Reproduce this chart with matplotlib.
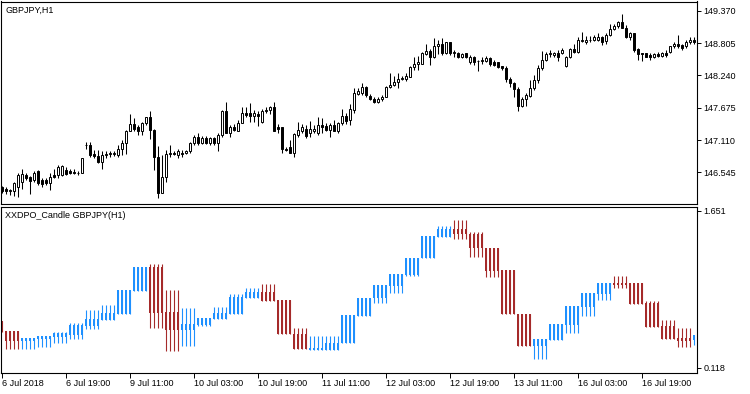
import numpy as np
import matplotlib
matplotlib.use("Agg")
import matplotlib.pyplot as plt

# GBPJPY H1 candles, 6 Jul 2018 03:00 .. 17 Jul 2018 08:00
price_open = [
    146.28, 146.26, 146.21, 146.21, 146.29, 146.38, 146.50, 146.46, 146.41, 146.56,
    146.41, 146.41, 146.35, 146.50, 146.50, 146.50, 146.58, 146.56, 146.55, 146.54,
    146.54, 147.02, 147.02, 146.87, 146.83, 146.73, 146.85, 146.86, 146.86, 146.85,
    146.95, 147.06, 147.27, 147.39, 147.33, 147.27, 147.40, 147.51, 147.29, 146.81,
    146.19, 146.46, 146.87, 146.88, 146.85, 146.89, 146.88, 146.91, 147.05, 147.17,
    147.06, 147.14, 147.05, 147.14, 147.06, 147.20, 147.61, 147.24, 147.34, 147.27,
    147.41, 147.59, 147.58, 147.53, 147.57, 147.43, 147.61, 147.64, 147.69, 147.33,
    147.33, 146.96, 146.98, 146.89, 147.20, 147.27, 147.31, 147.23, 147.27, 147.23,
    147.37, 147.36, 147.29, 147.37, 147.27, 147.40, 147.53, 147.46, 147.64, 147.92,
    147.93, 148.03, 147.88, 147.82, 147.78, 147.82, 147.87, 148.03, 148.07, 148.13,
    148.17, 148.17, 148.22, 148.38, 148.45, 148.45, 148.62, 148.67, 148.56, 148.75,
    148.80, 148.63, 148.82, 148.64, 148.63, 148.57, 148.63, 148.48, 148.56, 148.50,
    148.50, 148.50, 148.54, 148.48, 148.47, 148.40, 148.37, 148.17, 148.11, 148.00,
    147.71, 147.82, 147.88, 148.02, 148.16, 148.37, 148.52, 148.62, 148.60, 148.64,
    148.64, 148.40, 148.56, 148.70, 148.66, 148.85, 148.83, 148.86, 148.87, 148.87,
    148.91, 148.85, 148.95, 149.05, 149.11, 149.18, 149.08, 148.91, 148.98, 148.70,
    148.63, 148.63, 148.60, 148.56, 148.62, 148.58, 148.64, 148.66, 148.75, 148.79,
    148.77, 148.76, 148.83, 148.87,
]
price_high = [
    146.30, 146.29, 146.25, 146.38, 146.54, 146.61, 146.53, 146.48, 146.56, 146.58,
    146.44, 146.44, 146.53, 146.61, 146.67, 146.67, 146.64, 146.61, 146.60, 146.57,
    146.79, 147.08, 147.08, 146.94, 146.94, 146.91, 146.91, 146.92, 146.92, 147.02,
    147.11, 147.29, 147.57, 147.49, 147.37, 147.43, 147.52, 147.61, 147.31, 147.01,
    146.85, 146.94, 147.02, 146.91, 146.96, 146.94, 146.94, 147.08, 147.20, 147.23,
    147.18, 147.18, 147.17, 147.17, 147.23, 147.64, 147.78, 147.37, 147.39, 147.46,
    147.69, 147.68, 147.76, 147.64, 147.61, 147.65, 147.68, 147.71, 147.78, 147.39,
    147.34, 146.99, 147.11, 147.23, 147.43, 147.39, 147.37, 147.45, 147.37, 147.51,
    147.49, 147.41, 147.41, 147.46, 147.43, 147.66, 147.58, 147.74, 148.02, 148.02,
    148.10, 148.05, 147.91, 147.86, 147.87, 147.90, 148.06, 148.28, 148.23, 148.28,
    148.23, 148.28, 148.41, 148.56, 148.58, 148.66, 148.80, 148.70, 148.89, 148.86,
    148.89, 148.83, 148.83, 148.69, 148.66, 148.64, 148.64, 148.60, 148.58, 148.52,
    148.57, 148.58, 148.57, 148.51, 148.48, 148.41, 148.40, 148.22, 148.13, 148.03,
    147.86, 147.93, 148.16, 148.25, 148.42, 148.67, 148.66, 148.68, 148.66, 148.69,
    148.72, 148.58, 148.72, 148.79, 148.91, 149.00, 148.93, 148.93, 148.95, 148.98,
    148.93, 148.99, 149.14, 149.15, 149.20, 149.32, 149.13, 149.01, 148.99, 148.73,
    148.63, 148.64, 148.63, 148.64, 148.66, 148.66, 148.68, 148.76, 148.83, 148.95,
    148.80, 148.87, 148.91, 148.92,
]
price_low = [
    146.19, 146.16, 146.15, 146.13, 146.12, 146.26, 146.41, 146.16, 146.38, 146.32,
    146.29, 146.32, 146.23, 146.44, 146.44, 146.48, 146.50, 146.51, 146.52, 146.50,
    146.53, 146.96, 146.82, 146.79, 146.71, 146.61, 146.79, 146.82, 146.83, 146.82,
    146.85, 146.87, 147.26, 147.26, 147.20, 147.20, 147.37, 147.12, 146.59, 146.09,
    146.18, 146.38, 146.82, 146.85, 146.79, 146.82, 146.87, 146.89, 147.02, 147.02,
    147.04, 147.04, 147.03, 147.02, 146.91, 147.17, 147.23, 147.17, 147.26, 147.26,
    147.40, 147.52, 147.43, 147.43, 147.36, 147.41, 147.58, 147.57, 147.26, 147.23,
    146.89, 146.91, 146.88, 146.81, 147.17, 147.23, 147.14, 147.17, 147.23, 147.20,
    147.23, 147.26, 147.16, 147.26, 147.24, 147.37, 147.39, 147.37, 147.59, 147.90,
    147.90, 147.86, 147.81, 147.76, 147.76, 147.80, 147.86, 148.02, 148.06, 148.02,
    148.16, 148.15, 148.21, 148.34, 148.34, 148.44, 148.60, 148.42, 148.54, 148.62,
    148.60, 148.62, 148.60, 148.56, 148.54, 148.54, 148.54, 148.45, 148.42, 148.31,
    148.45, 148.48, 148.41, 148.40, 148.37, 148.34, 148.13, 148.03, 147.87, 147.62,
    147.68, 147.71, 147.87, 147.99, 148.10, 148.34, 148.50, 148.57, 148.56, 148.50,
    148.62, 148.38, 148.54, 148.64, 148.64, 148.83, 148.79, 148.83, 148.85, 148.85,
    148.77, 148.79, 148.93, 149.03, 149.07, 149.07, 148.89, 148.87, 148.66, 148.52,
    148.50, 148.56, 148.52, 148.54, 148.56, 148.56, 148.56, 148.64, 148.72, 148.72,
    148.69, 148.73, 148.80, 148.80,
]
price_close = [
    146.22, 146.21, 146.23, 146.35, 146.50, 146.52, 146.45, 146.40, 146.54, 146.35,
    146.34, 146.35, 146.47, 146.47, 146.64, 146.66, 146.52, 146.53, 146.53, 146.53,
    146.79, 147.03, 146.85, 146.83, 146.73, 146.85, 146.87, 146.88, 146.89, 146.96,
    147.06, 147.27, 147.39, 147.31, 147.27, 147.40, 147.51, 147.29, 146.81, 146.19,
    146.46, 146.87, 146.89, 146.87, 146.91, 146.87, 146.91, 147.05, 147.17, 147.06,
    147.15, 147.06, 147.15, 147.05, 147.20, 147.61, 147.24, 147.34, 147.29, 147.41,
    147.59, 147.55, 147.53, 147.59, 147.53, 147.62, 147.64, 147.69, 147.27, 147.31,
    146.96, 146.94, 146.89, 147.22, 147.29, 147.33, 147.18, 147.31, 147.31, 147.37,
    147.34, 147.29, 147.37, 147.27, 147.41, 147.53, 147.45, 147.66, 147.93, 147.96,
    148.03, 147.90, 147.82, 147.78, 147.82, 147.87, 148.03, 148.07, 148.13, 148.18,
    148.19, 148.23, 148.38, 148.45, 148.48, 148.63, 148.67, 148.56, 148.75, 148.79,
    148.63, 148.82, 148.64, 148.66, 148.56, 148.62, 148.56, 148.57, 148.48, 148.50,
    148.51, 148.54, 148.44, 148.42, 148.38, 148.37, 148.17, 148.11, 148.00, 147.71,
    147.82, 147.90, 148.02, 148.16, 148.37, 148.52, 148.62, 148.64, 148.64, 148.57,
    148.69, 148.56, 148.70, 148.66, 148.87, 148.87, 148.87, 148.87, 148.91, 148.91,
    148.83, 148.95, 149.05, 149.11, 149.17, 149.08, 148.91, 148.98, 148.68, 148.62,
    148.62, 148.57, 148.56, 148.62, 148.58, 148.64, 148.60, 148.75, 148.79, 148.75,
    148.73, 148.83, 148.86, 148.83,
]

# XXDPO_Candle values, one per H4 block (first and last blocks are partial)
dpo_open = [
    0.575, 0.477, 0.379, 0.402, 0.422, 0.438, 0.529, 0.585, 0.643, 0.872,
    1.106, 0.663, 0.487, 0.536, 0.591, 0.643, 0.803, 0.855, 0.780, 0.444,
    0.294, 0.294, 0.356, 0.627, 0.797, 0.921, 1.025, 1.188, 1.393, 1.475,
    1.426, 1.286, 1.074, 0.643, 0.334, 0.389, 0.536, 0.715, 0.839, 0.950,
    0.943, 0.754, 0.526, 0.405, 0.389,
]
dpo_high = [
    0.575, 0.477, 0.405, 0.428, 0.470, 0.559, 0.682, 0.731, 0.878, 1.106,
    1.132, 0.878, 0.705, 0.607, 0.712, 0.836, 0.894, 0.937, 0.780, 0.503,
    0.428, 0.428, 0.634, 0.797, 0.927, 1.035, 1.194, 1.406, 1.504, 1.563,
    1.442, 1.286, 1.074, 0.643, 0.399, 0.546, 0.722, 0.846, 0.943, 1.015,
    0.943, 0.771, 0.585, 0.503, 0.438,
]
dpo_low = [
    0.470, 0.301, 0.301, 0.324, 0.356, 0.399, 0.497, 0.585, 0.643, 0.872,
    0.510, 0.285, 0.334, 0.529, 0.591, 0.643, 0.803, 0.774, 0.444, 0.298,
    0.294, 0.294, 0.356, 0.627, 0.754, 0.852, 1.018, 1.188, 1.393, 1.374,
    1.204, 1.009, 0.640, 0.334, 0.200, 0.389, 0.454, 0.627, 0.780, 0.901,
    0.741, 0.519, 0.399, 0.324, 0.340,
]
dpo_close = [
    0.470, 0.379, 0.405, 0.428, 0.454, 0.536, 0.594, 0.656, 0.878, 1.106,
    0.656, 0.487, 0.546, 0.607, 0.656, 0.813, 0.855, 0.774, 0.444, 0.298,
    0.307, 0.363, 0.634, 0.797, 0.927, 1.035, 1.194, 1.406, 1.475, 1.423,
    1.286, 1.067, 0.640, 0.334, 0.399, 0.546, 0.722, 0.846, 0.943, 0.927,
    0.741, 0.519, 0.399, 0.382, 0.438,
]
dpo_bars = [1] + [4] * 43 + [1]

price_ticks = [146.545, 147.110, 147.675, 148.240, 148.805, 149.370]
dpo_ticks = [0.118, 1.651]
date_pos = [0, 16, 32, 48, 64, 80, 96, 112, 128, 144, 160]
date_labels = ["6 Jul 2018", "6 Jul 19:00", "9 Jul 11:00", "10 Jul 03:00",
               "10 Jul 19:00", "11 Jul 11:00", "12 Jul 03:00", "12 Jul 19:00",
               "13 Jul 11:00", "16 Jul 03:00", "16 Jul 19:00"]

BLUE = "#1E90FF"
BROWN = "#A52A2A"
FS = 6.5

plt.rcParams['font.family'] = ['Liberation Sans', 'DejaVu Sans']

fig = plt.figure(figsize=(7.5, 3.94), dpi=100)
W, H = 750.0, 394.0
ax1 = fig.add_axes([1 / W, 1 - 204 / H, 696 / W, 202.5 / H])
ax2 = fig.add_axes([1 / W, 1 - 372.7 / H, 696 / W, 166 / H])

# price candles
o = np.array(price_open)
h = np.array(price_high)
l = np.array(price_low)
c = np.array(price_close)
x = np.arange(len(c))
up = c >= o
ax1.vlines(x, l, h, color="black", lw=0.75, zorder=1)
ax1.bar(x, np.abs(c - o), bottom=np.minimum(o, c), width=0.58,
        color=np.where(up, "white", "black"), edgecolor="black",
        linewidth=0.7, zorder=2)

# indicator candles
do = np.repeat(dpo_open, dpo_bars)
dh = np.repeat(dpo_high, dpo_bars)
dl = np.repeat(dpo_low, dpo_bars)
dc = np.repeat(dpo_close, dpo_bars)
dx = np.arange(len(dc))
col = np.where(dc >= do, BLUE, BROWN)
ax2.vlines(dx, dl, dh, colors=col, lw=0.8, zorder=1)
ax2.bar(dx, np.maximum(np.abs(dc - do), 0.006), bottom=np.minimum(do, dc),
        width=0.7, color=col, linewidth=0, zorder=2)

for ax in (ax1, ax2):
    ax.set_xlim(-0.25, 173.75)
    ax.yaxis.tick_right()
    ax.tick_params(axis="y", length=3, width=0.7, pad=1.5, labelsize=FS)
    for s in ax.spines.values():
        s.set_linewidth(0.8)
        s.set_color("black")

ax1.set_ylim(145.989, 149.536)
ax1.set_yticks(price_ticks)
ax1.set_yticklabels(["%.3f" % v for v in price_ticks])
ax1.set_xticks([])

ax2.set_ylim(0.069, 1.693)
ax2.set_yticks(dpo_ticks)
ax2.set_yticklabels(["%.3f" % v for v in dpo_ticks])
ax2.set_xticks(date_pos)
ax2.set_xticklabels(date_labels, ha="left")
ax2.tick_params(axis="x", length=3.5, width=0.7, pad=1, labelsize=FS)

fig.text(6 / W, 1 - 10 / H, "GBPJPY,H1", fontsize=FS, va="center", ha="left")
fig.text(5 / W, 1 - 216 / H, "XXDPO_Candle GBPJPY(H1)", fontsize=FS,
         va="center", ha="left")

fig.savefig("out.png", dpi=100)
